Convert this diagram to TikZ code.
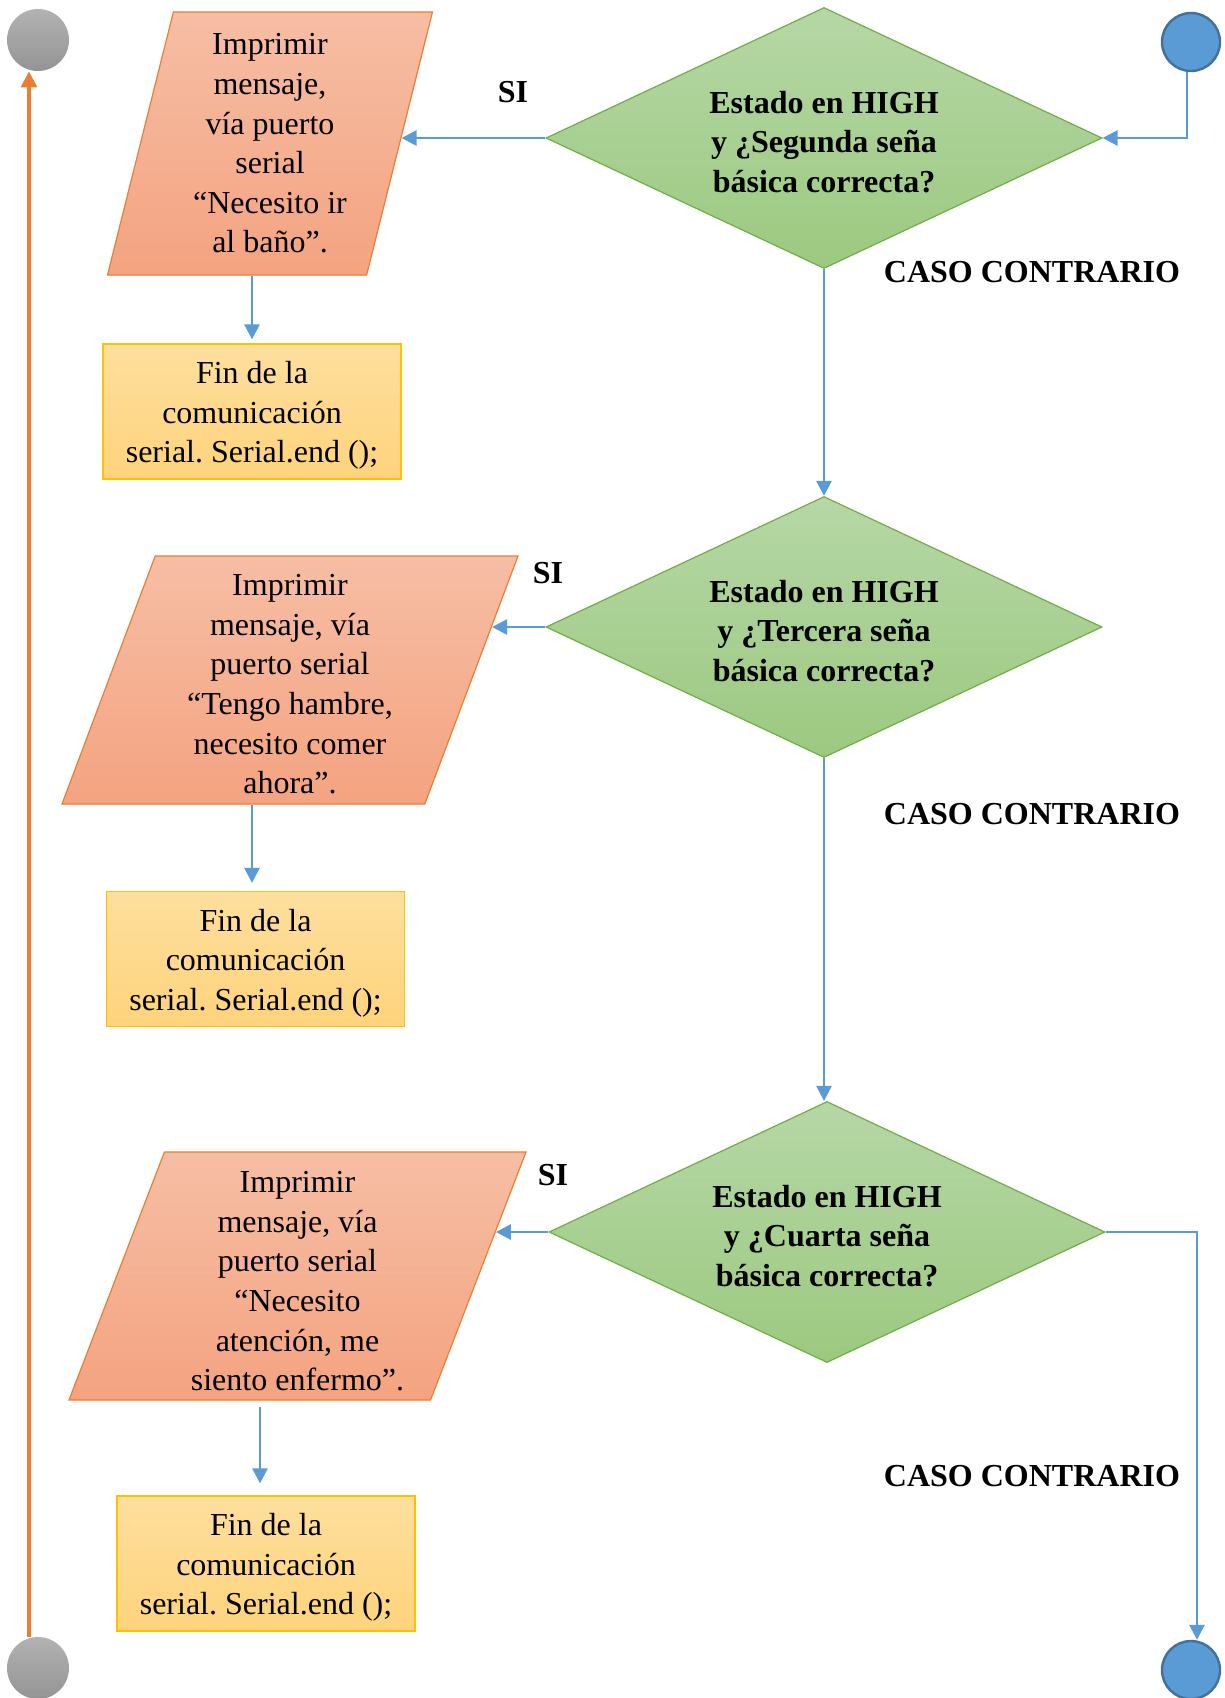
\documentclass[tikz,border=0pt]{standalone}
\usepackage{fontspec}
\setmainfont{Liberation Serif}
\frenchspacing
\usetikzlibrary{shapes.geometric,arrows.meta,calc}

\definecolor{azul}{HTML}{5B9BD5}
\definecolor{azulborde}{HTML}{41719C}
\definecolor{naranja}{HTML}{ED7D31}
\definecolor{verde}{HTML}{70AD47}
\definecolor{oro}{HTML}{FFC000}

\newcommand{\arriba}{\rule{0pt}{15pt}}

\tikzset{
  texto/.style={font=\fontsize{16}{19.8}\selectfont},
  decision/.style={diamond, aspect=2.13, draw=verde, line width=0.6pt,
    top color={rgb,255:red,182;green,215;blue,166}, bottom color={rgb,255:red,156;green,201;blue,128},
    minimum width=278pt, minimum height=130.5pt, inner sep=0pt, align=center,
    font=\bfseries\fontsize{16}{19.8}\selectfont},
  datos/.style={trapezium, trapezium stretches body, draw=naranja, line width=0.6pt,
    top color={rgb,255:red,246;green,190;blue,165}, bottom color={rgb,255:red,244;green,163;blue,128},
    inner sep=0pt, align=center, texto},
  fin/.style={rectangle, draw=oro, line width=0.6pt,
    top color={rgb,255:red,254;green,223;blue,158}, bottom color={rgb,255:red,254;green,211;blue,124},
    minimum width=149pt, minimum height=67.5pt, inner sep=0pt, align=center, texto},
  etiqueta/.style={font=\bfseries\fontsize{16}{19.8}\selectfont},
  flecha/.style={draw=azul, line width=1.3pt, -{Triangle[length=7.5pt,width=7.5pt]}},
  gris/.style={circle, minimum size=31pt, inner sep=0pt,
    top color={rgb,255:red,178;green,178;blue,178}, bottom color={rgb,255:red,148;green,148;blue,148}},
  conector/.style={circle, minimum size=29pt, inner sep=0pt, fill=azul, draw=azulborde, line width=1.2pt},
}

\begin{document}
\begin{tikzpicture}[x=0.5pt,y=-0.5pt]
    \useasboundingbox (0,0) rectangle (1225,1698);

    % Conectores de inicio y fin
    \node[gris] (g1) at (38,40) {};
    \node[gris] (g2) at (38,1668) {};
    \node[conector] (c1) at (1191,42) {};
    \node[conector] (c4) at (1191,1670) {};

    % Decisiones
    \node[decision] (d1) at (824,138) {\arriba Estado en HIGH\\y ¿Segunda seña\\básica correcta?};
    \node[decision] (d2) at (824,627) {\arriba Estado en HIGH\\y ¿Tercera seña\\básica correcta?};
    \node[decision] (d3) at (827,1232) {\arriba Estado en HIGH\\y ¿Cuarta seña\\básica correcta?};

    % Mensajes
    \node[datos, trapezium left angle=73.3, trapezium right angle=106.7,
      minimum width=162.5pt, minimum height=131.5pt] (p1) at (270,143.5)
      {Imprimir\\mensaje,\\vía puerto\\serial\\“Necesito ir\\al baño”.};
    \node[datos, trapezium left angle=67.8, trapezium right angle=112.2,
      minimum width=228pt, minimum height=124pt] (p2) at (290,680)
      {\arriba Imprimir\\mensaje, vía\\puerto serial\\“Tengo hambre,\\necesito comer\\ahora”.};
    \node[datos, trapezium left angle=67.5, trapezium right angle=112.5,
      minimum width=228.5pt, minimum height=124pt] (p3) at (297.5,1276)
      {\rule{0pt}{16pt}Imprimir\\mensaje, vía\\puerto serial\\“Necesito\\atención, me\\siento enfermo”.};

    % Fin de la comunicacion
    \node[fin] (b1) at (252,411.5) {\arriba Fin de la\\comunicación\\serial. Serial.end ();};
    \node[fin] (b2) at (255.5,959) {\arriba Fin de la\\comunicación\\serial. Serial.end ();};
    \node[fin] (b3) at (266,1563.5) {\arriba Fin de la\\comunicación\\serial. Serial.end ();};
    \coordinate (e2) at ([xshift=-1.75pt]b2.north);
    \coordinate (e3) at ([xshift=-3pt]b3.north);

    % Etiquetas
    \node[etiqueta] (si1) at (513,92) {SI};
    \node[etiqueta] (si2) at (548,573) {SI};
    \node[etiqueta] (si3) at (553,1175) {SI};
    \node[etiqueta] (cc1) at (1032,272) {CASO CONTRARIO};
    \node[etiqueta] (cc2) at (1032,814) {CASO CONTRARIO};
    \node[etiqueta] (cc3) at (1032,1476) {CASO CONTRARIO};

    % Flechas
    \draw[flecha] ([xshift=-2pt]c1.south) |- (d1.east);
    \draw[flecha] (d1.west) -- (d1.west -| {$(p1.bottom right corner)!0.52!(p1.top right corner)$});
    \draw[flecha] (d2.west) -- (d2.west -| {$(p2.bottom right corner)!0.714!(p2.top right corner)$});
    \draw[flecha] (d3.west) -- (d3.west -| {$(p3.bottom right corner)!0.677!(p3.top right corner)$});
    \draw[flecha] (d1.south) -- (d2.north);
    \draw[flecha] (d2.south) -- (d2.south |- d3.north);
    \draw[flecha] (d3.east) -| ([xshift=3pt]c4.north);
    \draw[flecha, shorten >=2pt] (p1.south -| b1.north) -- (b1.north);
    \draw[flecha, shorten >=4pt] (p2.south -| e2) -- (e2);
    \draw[flecha, shorten <=3pt, shorten >=6pt] (p3.south -| e3) -- (e3);
    \draw[naranja, line width=1.6pt, -{Triangle[length=8pt,width=8pt]}]
      ([xshift=-4.5pt]g2.north) -- ([xshift=-4.5pt]g1.south);
\end{tikzpicture}
\end{document}
